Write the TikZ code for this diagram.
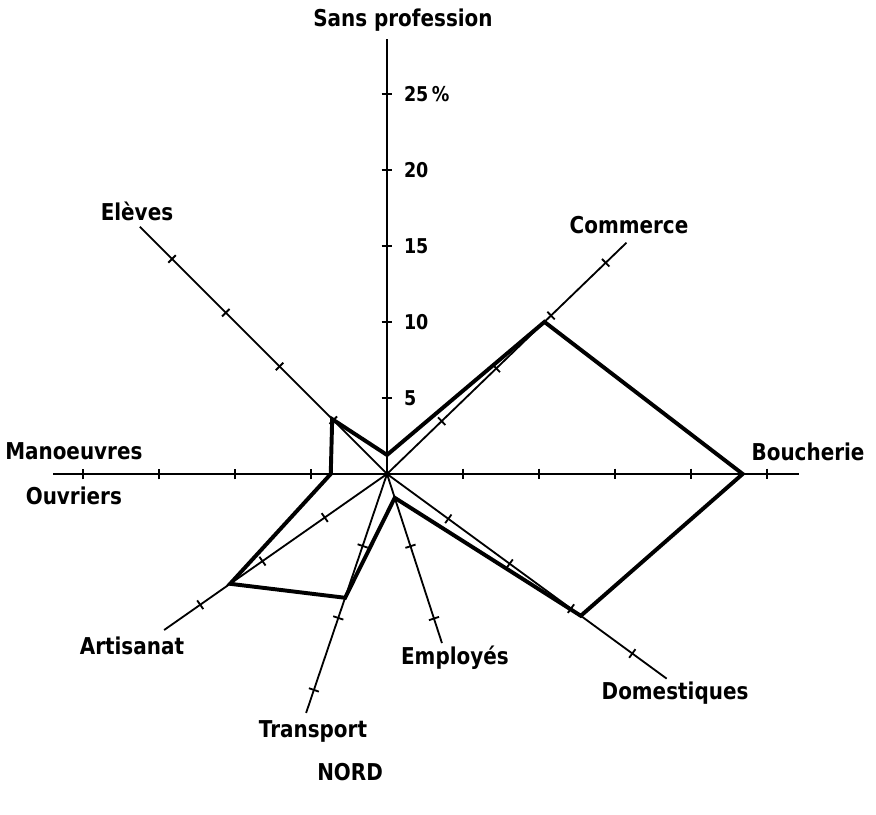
\documentclass[tikz,border=0pt]{standalone}
\usepackage{fontspec}
\newfontfamily\plotfont{DejaVu Sans}[FakeStretch=0.86]

\begin{document}
\begin{tikzpicture}[x=0.38cm, y=0.38cm,
    axe/.style={line width=1.3pt},
    courbe/.style={line width=2.8pt, line join=miter},
    lab/.style={font=\plotfont\bfseries\fontsize{16.5}{16.5}\selectfont, inner sep=0pt},
    grad/.style={font=\plotfont\bfseries\fontsize{14.5}{14.5}\selectfont, anchor=west, inner sep=0pt}]

    % Cadre de la figure
    \useasboundingbox (-25.46,-22.43) rectangle (32.17,31.18);

    % 1. Les neuf axes et leurs graduations (tous les 5 %)
    \coordinate (O) at (0,0);
    \foreach \nom/\ang/\lon/\tmax in {sans/90/28.6/25, com/44/21.9/20, bou/0/27.1/25,
        dom/-36.2/22.8/20, emp/-72/11.7/10, tra/-108.7/16.6/15, art/215/17.9/15,
        ouv/180/22/20, ele/135/23/20} {
        \coordinate (\nom) at (\ang:\lon);
        \draw[axe] (O) -- (\nom);
        \foreach \t in {5,10,...,\tmax}
            \draw[axe] ([shift={(\ang:\t)}]\ang+90:0.35) -- ([shift={(\ang:\t)}]\ang-90:0.35);
    }

    % 2. Valeurs sur l'axe vertical
    \foreach \t in {5,10,15,20}
        \node[grad] (g\t) at (1.1,\t) {\t};
    \node[grad] (g25) at (1.1,25) {25\,\%};

    % 3. Le polygone des pourcentages
    \coordinate (pSans) at (90:1.25);
    \coordinate (pCom) at (44:14.4);
    \coordinate (pBou) at (0:23.4);
    \coordinate (pDom) at (-36.2:15.8);
    \coordinate (pEmp) at (-72:1.65);
    \coordinate (pTra) at (-108.7:8.6);
    \coordinate (pArt) at (215:12.6);
    \coordinate (pOuv) at (180:3.7);
    \coordinate (pEle) at (135:5.1);
    \draw[courbe] (pSans) -- (pCom) -- (pBou) -- (pDom) -- (pEmp)
        -- (pTra) -- (pArt) -- (pOuv) -- (pEle) -- cycle;

    % 4. Noms des axes
    \node[lab] (tSans) at (1.05,29.87) {Sans profession};
    \node[lab] (tCom) at (15.92,16.38) {Commerce};
    \node[lab] (tBou) at (27.7,1.45) {Boucherie};
    \node[lab] (tDom) at (18.95,-14.4) {Domestiques};
    \node[lab] (tEmp) at (4.47,-12.1) {Employés};
    \node[lab] (tTra) at (-4.87,-16.97) {Transport};
    \node[lab] (tArt) at (-16.78,-11.3) {Artisanat};
    \node[lab] (tOuv) at (-20.6,-1.45) {Ouvriers};
    \node[lab] (tMan) at (-20.6,1.5) {Manoeuvres};
    \node[lab] (tEle) at (-16.45,17.3) {Elèves};
    \node[lab] (tNord) at (-2.43,-19.6) {NORD};

\end{tikzpicture}
\end{document}
